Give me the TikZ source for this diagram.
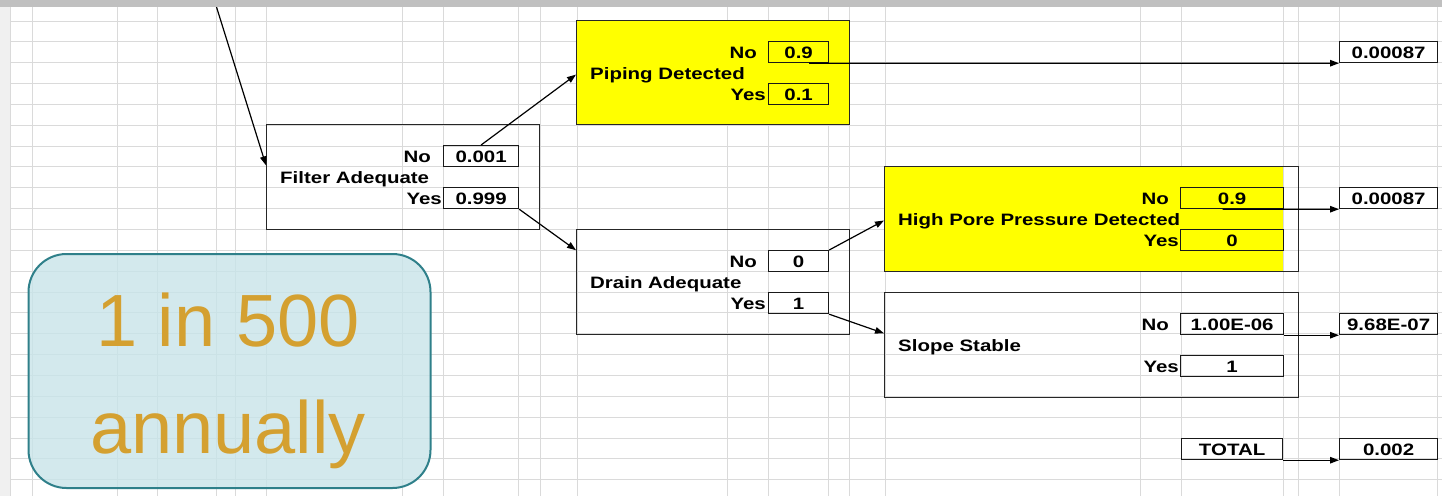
\documentclass[tikz,border=0pt]{standalone}
\usepackage{fontspec}
\setmainfont{Liberation Sans}
\usepackage{graphicx}
\usetikzlibrary{arrows.meta,calc}
\definecolor{gridc}{RGB}{218,218,218}
\definecolor{barc}{RGB}{192,192,192}
\definecolor{stripc}{RGB}{240,240,240}
\definecolor{xlyellow}{RGB}{255,255,0}
\definecolor{tealc}{RGB}{47,128,138}
\definecolor{bluefill}{RGB}{200,228,233}
\definecolor{goldc}{RGB}{212,160,48}
\newcommand{\xt}[1]{\scalebox{1.24}[1]{#1}}
\begin{document}
\begin{tikzpicture}[x=1pt,y=-1pt,
  xlfont/.style={font=\fontsize{16.5}{19}\selectfont\bfseries},
  box/.style={draw=black!85, line width=1pt, inner sep=0pt, anchor=north west},
  vbox/.style={draw=black!90, line width=1.2pt, inner sep=0pt, anchor=north west,
    minimum height=21pt, text height=12pt, text depth=0pt, xlfont},
  lbl/.style={inner sep=0pt, xlfont, anchor=base east},
  ttl/.style={inner sep=0pt, xlfont, anchor=base west},
  arr/.style={line width=1.2pt, -{Triangle[length=9pt,width=6.5pt]}},
  bigtxt/.style={font=\fontsize{74}{80}\selectfont, text=goldc, anchor=base, inner sep=0pt}]
\useasboundingbox (0,0) rectangle (1442,496);
\fill[white] (0,0) rectangle (1442,496);
\fill[stripc] (0,0) rectangle (10.5,496);
% grid
\foreach \gx in {32,117,157,216,235,266,402,443,518,540,577,727,768,828,849,885,1140,1181,1283,1298,1339,1437}
  \draw[gridc, line width=1pt] (\gx,7) -- (\gx,496);
\foreach \k in {0,...,22}
  \draw[gridc, line width=1pt] (10.5,{21+20.85*\k}) -- (1442,{21+20.85*\k});
\draw[gridc, line width=1pt] (10.5,7) -- (10.5,496);
% yellow fills
\fill[xlyellow] (576,20) rectangle (849,124);
\fill[xlyellow] (884,166) rectangle (1283,271);
% decision boxes
\node[box, minimum width=273pt, minimum height=104pt] (piping) at (576,20) {};
\node[box, minimum width=273pt, minimum height=105pt] (filter) at (266,124) {};
\node[box, minimum width=273pt, minimum height=105pt] (drain) at (576,229) {};
\node[box, minimum width=414pt, minimum height=105pt] (hpp) at (884,166) {};
\node[box, minimum width=414pt, minimum height=105pt] (slope) at (884,292) {};
% value boxes
\node[vbox, minimum width=60pt] (pno) at (768,41) {\xt{0.9}};
\node[vbox, minimum width=60pt] (pyes) at (768,83) {\xt{0.1}};
\node[vbox, minimum width=75pt] (fno) at (443,145) {\xt{0.001}};
\node[vbox, minimum width=75pt] (fyes) at (443,187) {\xt{0.999}};
\node[vbox, minimum width=60pt] (dno) at (768,250) {\xt{0}};
\node[vbox, minimum width=60pt] (dyes) at (768,292) {\xt{1}};
\node[vbox, minimum width=103pt] (hno) at (1180,187) {\xt{0.9}};
\node[vbox, minimum width=103pt] (hyes) at (1180,229) {\xt{0}};
\node[vbox, minimum width=103pt] (sno) at (1180,313) {\xt{1.00E-06}};
\node[vbox, minimum width=103pt] (syes) at (1180,355) {\xt{1}};
\node[vbox, minimum width=98pt] (t1) at (1339,41) {\xt{0.00087}};
\node[vbox, minimum width=98pt] (t2) at (1339,187) {\xt{0.00087}};
\node[vbox, minimum width=98pt] (t3) at (1339,313) {\xt{9.68E-07}};
\node[vbox, minimum width=101pt] (tot) at (1181,438) {\xt{TOTAL}};
\node[vbox, minimum width=98pt] (t4) at (1339,438) {\xt{0.002}};
% labels
\node[lbl] (pnol) at (757,58) {\xt{No}};
\node[lbl] (pyesl) at (766,100) {\xt{Yes}};
\node[ttl] (ptl) at (590,79) {\xt{Piping Detected}};
\node[lbl] (fnol) at (431,162) {\xt{No}};
\node[lbl] (fyesl) at (442,204) {\xt{Yes}};
\node[ttl] (ftl) at (280,183) {\xt{Filter Adequate}};
\node[lbl] (dnol) at (757,267) {\xt{No}};
\node[lbl] (dyesl) at (766,309) {\xt{Yes}};
\node[ttl] (dtl) at (590,288) {\xt{Drain Adequate}};
\node[lbl] (hnol) at (1169,204) {\xt{No}};
\node[lbl] (hyesl) at (1179,246) {\xt{Yes}};
\node[ttl] (htl) at (898,225) {\xt{High Pore Pressure Detected}};
\node[lbl] (snol) at (1169,330) {\xt{No}};
\node[lbl] (syesl) at (1179,372) {\xt{Yes}};
\node[ttl] (stl) at (898,351) {\xt{Slope Stable}};
% connectors
\coordinate (src) at (216.5,7);
\draw[arr] (src) -- ($(filter.north west)!0.39!(filter.south west)$);
\draw[arr] (fno.north) -- ($(piping.north west)!0.52!(piping.south west)$);
\draw[arr] (fyes.south east) -- ($(drain.north west)!0.2!(drain.south west)$);
\draw[arr] ($(pno.south west)!0.67!(pno.south east)$) -- (t1.south west);
\draw[arr] (dno.north east) -- ($(hpp.north west)!0.514!(hpp.south west)$);
\draw[arr] ($(hno.south west)!0.41!(hno.south east)$) -- (t2.south west);
\draw[arr] (dyes.south east) -- ($(slope.north west)!0.39!(slope.south west)$);
\draw[arr] (sno.south east) -- (t3.south west);
\draw[arr] (tot.south east) -- (t4.south west);
% note box
\node[draw=tealc, line width=2pt, fill=bluefill, fill opacity=0.8, text opacity=1,
  rounded corners=38pt, minimum width=402pt, minimum height=234pt,
  anchor=north west, inner sep=0pt] (note) at (27.5,253) {};
\node[bigtxt] (l1) at (228,346) {1 in 500};
\node[bigtxt] (l2) at (228,453) {annually};
% top bar
\fill[barc] (0,0) rectangle (1442,7);
\end{tikzpicture}
\end{document}
